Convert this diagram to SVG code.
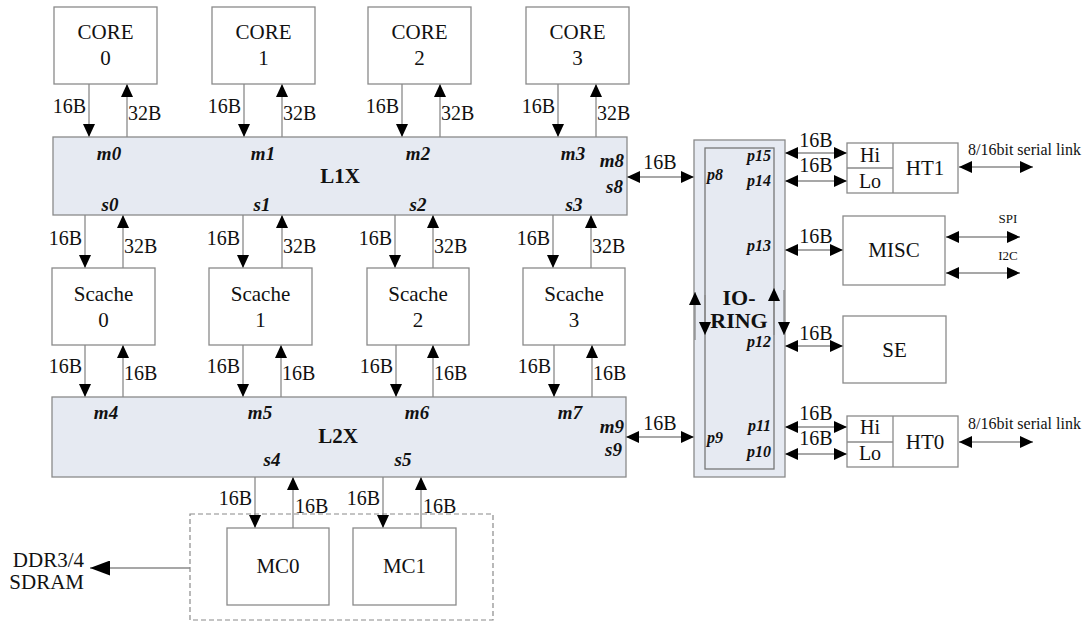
<svg xmlns="http://www.w3.org/2000/svg" width="1084" height="622" viewBox="0 0 1084 622">
<defs>
<style>
.box{fill:#ffffff;stroke:#8a8a8a;stroke-width:1.3}
.bus{fill:#e6eaf2;stroke:#8a8a8a;stroke-width:1.3}
.ln{stroke:#8a8a8a;stroke-width:1.3;fill:none}
.dash{fill:none;stroke:#8a8a8a;stroke-width:1.2;stroke-dasharray:5,3}
text{font-family:"Liberation Serif","Times New Roman",serif;fill:#111}
.t{font-size:21px;text-anchor:middle}
.lb{font-size:20px}
.e{text-anchor:end}
.m{text-anchor:middle}
.bold{font-weight:bold;font-size:21px;text-anchor:middle}
.port{font-weight:bold;font-style:italic;font-size:19px}
.pp{font-weight:bold;font-style:italic;font-size:16px}
.sm{font-size:16px}
.xs{font-size:13px;text-anchor:middle}
</style>
<marker id="ah" markerWidth="13" markerHeight="12" refX="13" refY="6" orient="auto-start-reverse" markerUnits="userSpaceOnUse"><path d="M0,0 L13,6 L0,12 z" fill="#000"/></marker>
<marker id="ahb" markerWidth="20" markerHeight="15" refX="20" refY="7.5" orient="auto-start-reverse" markerUnits="userSpaceOnUse"><path d="M0,0 L20,7.5 L0,15 z" fill="#000"/></marker>
</defs>

<g id="connectors">
<!-- core <-> L1X -->
<line class="ln" x1="89" y1="84" x2="89" y2="137" marker-end="url(#ah)"/>
<line class="ln" x1="127" y1="137" x2="127" y2="84" marker-end="url(#ah)"/>
<line class="ln" x1="244" y1="84" x2="244" y2="137" marker-end="url(#ah)"/>
<line class="ln" x1="282" y1="137" x2="282" y2="84" marker-end="url(#ah)"/>
<line class="ln" x1="402" y1="84" x2="402" y2="137" marker-end="url(#ah)"/>
<line class="ln" x1="440" y1="137" x2="440" y2="84" marker-end="url(#ah)"/>
<line class="ln" x1="558" y1="84" x2="558" y2="137" marker-end="url(#ah)"/>
<line class="ln" x1="596" y1="137" x2="596" y2="84" marker-end="url(#ah)"/>
<text class="lb e" x="86" y="113">16B</text><text class="lb" x="128" y="120">32B</text>
<text class="lb e" x="241" y="113">16B</text><text class="lb" x="283" y="120">32B</text>
<text class="lb e" x="399" y="113">16B</text><text class="lb" x="441" y="120">32B</text>
<text class="lb e" x="555" y="113">16B</text><text class="lb" x="597" y="120">32B</text>
<!-- L1X <-> Scache -->
<line class="ln" x1="85" y1="215" x2="85" y2="268" marker-end="url(#ah)"/>
<line class="ln" x1="123" y1="268" x2="123" y2="215" marker-end="url(#ah)"/>
<line class="ln" x1="243" y1="215" x2="243" y2="268" marker-end="url(#ah)"/>
<line class="ln" x1="282" y1="268" x2="282" y2="215" marker-end="url(#ah)"/>
<line class="ln" x1="395" y1="215" x2="395" y2="268" marker-end="url(#ah)"/>
<line class="ln" x1="433" y1="268" x2="433" y2="215" marker-end="url(#ah)"/>
<line class="ln" x1="553" y1="215" x2="553" y2="268" marker-end="url(#ah)"/>
<line class="ln" x1="591" y1="268" x2="591" y2="215" marker-end="url(#ah)"/>
<text class="lb e" x="82" y="245">16B</text><text class="lb" x="124" y="253">32B</text>
<text class="lb e" x="240" y="245">16B</text><text class="lb" x="283" y="253">32B</text>
<text class="lb e" x="392" y="245">16B</text><text class="lb" x="434" y="253">32B</text>
<text class="lb e" x="550" y="245">16B</text><text class="lb" x="592" y="253">32B</text>
<!-- Scache <-> L2X -->
<line class="ln" x1="85" y1="345" x2="85" y2="397" marker-end="url(#ah)"/>
<line class="ln" x1="123" y1="397" x2="123" y2="345" marker-end="url(#ah)"/>
<line class="ln" x1="243" y1="345" x2="243" y2="397" marker-end="url(#ah)"/>
<line class="ln" x1="281" y1="397" x2="281" y2="345" marker-end="url(#ah)"/>
<line class="ln" x1="396" y1="345" x2="396" y2="397" marker-end="url(#ah)"/>
<line class="ln" x1="433" y1="397" x2="433" y2="345" marker-end="url(#ah)"/>
<line class="ln" x1="554" y1="345" x2="554" y2="397" marker-end="url(#ah)"/>
<line class="ln" x1="592" y1="397" x2="592" y2="345" marker-end="url(#ah)"/>
<text class="lb e" x="82" y="373">16B</text><text class="lb" x="124" y="380">16B</text>
<text class="lb e" x="240" y="373">16B</text><text class="lb" x="282" y="380">16B</text>
<text class="lb e" x="393" y="373">16B</text><text class="lb" x="434" y="380">16B</text>
<text class="lb e" x="551" y="373">16B</text><text class="lb" x="593" y="380">16B</text>
<!-- L2X <-> MC -->
<line class="ln" x1="255" y1="477" x2="255" y2="528" marker-end="url(#ah)"/>
<line class="ln" x1="293" y1="528" x2="293" y2="477" marker-end="url(#ah)"/>
<line class="ln" x1="383" y1="477" x2="383" y2="528" marker-end="url(#ah)"/>
<line class="ln" x1="421" y1="528" x2="421" y2="477" marker-end="url(#ah)"/>
<text class="lb e" x="252" y="505">16B</text><text class="lb" x="295" y="513">16B</text>
<text class="lb e" x="380" y="505">16B</text><text class="lb" x="423" y="513">16B</text>
<!-- DDR -->
<line class="ln" x1="190" y1="568" x2="90" y2="568" marker-end="url(#ahb)"/>
<!-- L1X/L2X <-> IO-RING -->
<line class="ln" x1="627" y1="177" x2="694" y2="177" marker-start="url(#ah)" marker-end="url(#ah)"/>
<text class="lb m" x="660" y="169">16B</text>
<line class="ln" x1="626" y1="437" x2="694" y2="437" marker-start="url(#ah)" marker-end="url(#ah)"/>
<text class="lb m" x="660" y="430">16B</text>
<!-- IO-RING right side -->
<line class="ln" x1="785" y1="153" x2="847" y2="153" marker-start="url(#ah)" marker-end="url(#ah)"/>
<text class="lb m" x="816" y="147">16B</text>
<line class="ln" x1="785" y1="181" x2="847" y2="181" marker-start="url(#ah)" marker-end="url(#ah)"/>
<text class="lb m" x="816" y="172">16B</text>
<line class="ln" x1="785" y1="250" x2="843" y2="250" marker-start="url(#ah)" marker-end="url(#ah)"/>
<text class="lb m" x="816" y="243">16B</text>
<line class="ln" x1="785" y1="346" x2="843" y2="346" marker-start="url(#ah)" marker-end="url(#ah)"/>
<text class="lb m" x="816" y="340">16B</text>
<line class="ln" x1="785" y1="427" x2="847" y2="427" marker-start="url(#ah)" marker-end="url(#ah)"/>
<text class="lb m" x="816" y="420">16B</text>
<line class="ln" x1="785" y1="454" x2="847" y2="454" marker-start="url(#ah)" marker-end="url(#ah)"/>
<text class="lb m" x="816" y="445">16B</text>
<!-- external links -->
<line class="ln" x1="959" y1="167" x2="1033" y2="167" marker-start="url(#ah)" marker-end="url(#ah)"/>
<text class="sm" x="968" y="155">8/16bit serial link</text>
<line class="ln" x1="959" y1="442" x2="1033" y2="442" marker-start="url(#ah)" marker-end="url(#ah)"/>
<text class="sm" x="968" y="429">8/16bit serial link</text>
<line class="ln" x1="946" y1="237" x2="1020" y2="237" marker-start="url(#ah)" marker-end="url(#ah)"/>
<text class="xs" x="1008" y="223">SPI</text>
<line class="ln" x1="946" y1="273" x2="1020" y2="273" marker-start="url(#ah)" marker-end="url(#ah)"/>
<text class="xs" x="1008" y="260">I2C</text>
</g>

<g id="core0"><rect class="box" x="54" y="7" width="103" height="77"/><text class="t" x="105.5" y="39">CORE</text><text class="t" x="105.5" y="65">0</text></g>
<g id="core1"><rect class="box" x="212" y="7" width="103" height="77"/><text class="t" x="263.5" y="39">CORE</text><text class="t" x="263.5" y="65">1</text></g>
<g id="core2"><rect class="box" x="368" y="7" width="103" height="77"/><text class="t" x="419.5" y="39">CORE</text><text class="t" x="419.5" y="65">2</text></g>
<g id="core3"><rect class="box" x="526" y="7" width="103" height="77"/><text class="t" x="577.5" y="39">CORE</text><text class="t" x="577.5" y="65">3</text></g>

<g id="l1x"><rect class="bus" x="53" y="137" width="574" height="78"/>
<text class="bold" x="340" y="183">L1X</text>
<text class="port m" x="109" y="160">m0</text><text class="port m" x="263" y="160">m1</text><text class="port m" x="418" y="160">m2</text><text class="port m" x="573" y="160">m3</text>
<text class="port m" x="110" y="211">s0</text><text class="port m" x="262" y="211">s1</text><text class="port m" x="418" y="211">s2</text><text class="port m" x="574" y="211">s3</text>
<text class="port e" x="624" y="167">m8</text><text class="port e" x="623" y="193">s8</text>
</g>

<g id="scache0"><rect class="box" x="52" y="268" width="103" height="77"/><text class="t" x="103.5" y="301">Scache</text><text class="t" x="103.5" y="327">0</text></g>
<g id="scache1"><rect class="box" x="209" y="268" width="103" height="77"/><text class="t" x="260.5" y="301">Scache</text><text class="t" x="260.5" y="327">1</text></g>
<g id="scache2"><rect class="box" x="367" y="268" width="102" height="77"/><text class="t" x="418" y="301">Scache</text><text class="t" x="418" y="327">2</text></g>
<g id="scache3"><rect class="box" x="523" y="268" width="102" height="77"/><text class="t" x="574" y="301">Scache</text><text class="t" x="574" y="327">3</text></g>

<g id="l2x"><rect class="bus" x="52" y="397" width="574" height="80"/>
<text class="bold" x="338" y="443">L2X</text>
<text class="port m" x="106" y="419">m4</text><text class="port m" x="260" y="419">m5</text><text class="port m" x="417" y="419">m6</text><text class="port m" x="570" y="419">m7</text>
<text class="port m" x="272" y="466">s4</text><text class="port m" x="403" y="466">s5</text>
<text class="port e" x="624" y="433">m9</text><text class="port e" x="622" y="456">s9</text>
</g>

<g id="memctrl"><rect class="dash" x="190" y="514" width="303" height="106"/></g>
<g id="mc0"><rect class="box" x="227" y="528" width="102" height="77"/><text class="t" x="278" y="573">MC0</text></g>
<g id="mc1"><rect class="box" x="353" y="528" width="103" height="77"/><text class="t" x="404.5" y="573">MC1</text></g>
<g id="ddr"><text class="t e" x="84" y="567">DDR3/4</text><text class="t e" x="84" y="589">SDRAM</text></g>

<g id="ioring">
<rect class="bus" x="694" y="140" width="91" height="337"/>
<rect class="bus" x="705" y="148" width="69" height="321" style="stroke:#777"/>
<text class="bold" x="739" y="305" style="font-size:22px">IO-</text>
<text class="bold" x="739" y="328" style="font-size:22px">RING</text>
<line class="ln" x1="695" y1="340" x2="695" y2="292" marker-end="url(#ah)"/>
<line class="ln" x1="705" y1="295" x2="705" y2="335" marker-end="url(#ah)"/>
<line class="ln" x1="774" y1="335" x2="774" y2="288" marker-end="url(#ah)"/>
<line class="ln" x1="784" y1="290" x2="784" y2="335" marker-end="url(#ah)"/>
<text class="pp" x="707" y="180">p8</text>
<text class="pp" x="707" y="443">p9</text>
<text class="pp e" x="771" y="161">p15</text>
<text class="pp e" x="771" y="186">p14</text>
<text class="pp e" x="771" y="251">p13</text>
<text class="pp e" x="771" y="347">p12</text>
<text class="pp e" x="771" y="431">p11</text>
<text class="pp e" x="771" y="457">p10</text>
</g>

<g id="ht1"><rect class="box" x="847" y="143" width="111" height="50"/><line class="ln" x1="893" y1="143" x2="893" y2="193"/><line class="ln" x1="847" y1="168" x2="893" y2="168"/>
<text class="lb m" x="870" y="162">Hi</text><text class="lb m" x="870" y="188">Lo</text><text class="t" x="925" y="175">HT1</text></g>
<g id="misc"><rect class="box" x="843" y="216" width="102" height="69"/><text class="t" x="894" y="257">MISC</text></g>
<g id="se"><rect class="box" x="843" y="316" width="103" height="67"/><text class="t" x="894.5" y="357">SE</text></g>
<g id="ht0"><rect class="box" x="847" y="416" width="111" height="51"/><line class="ln" x1="893" y1="416" x2="893" y2="467"/><line class="ln" x1="847" y1="442" x2="893" y2="442"/>
<text class="lb m" x="870" y="434">Hi</text><text class="lb m" x="870" y="460">Lo</text><text class="t" x="925" y="449">HT0</text></g>
</svg>
